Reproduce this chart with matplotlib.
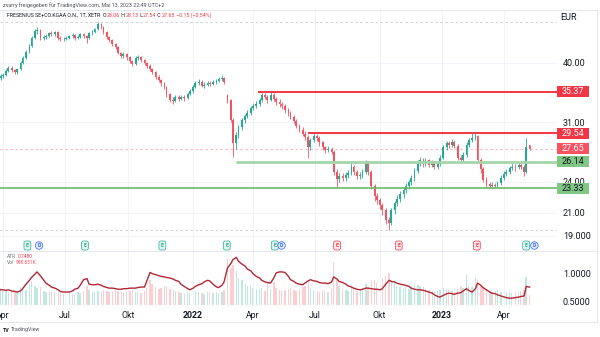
import numpy as np
import pandas as pd
import matplotlib
matplotlib.use("Agg")
import matplotlib.pyplot as plt
import matplotlib.dates as mdates
from matplotlib.patches import Rectangle
from matplotlib.ticker import NullLocator, NullFormatter

plt.rcParams["font.family"] = ["Roboto", "DejaVu Sans"]

W, H = 600, 337

# Fresenius SE, Xetra, 3-day bars from 2021-03-29
start = "2021-03-29"
first_open = 37.5
closes = [
    37.8, 38.0, 38.6, 39.1, 38.8, 38.5, 38.9, 40.0, 40.9, 41.9,
    43.0, 44.6, 45.9, 46.1, 44.6, 44.7, 45.0, 45.5, 45.3, 45.7,
    44.6, 44.4, 44.4, 44.6, 44.9, 45.1, 44.6, 44.7, 45.3, 45.0,
    44.6, 45.5, 45.7, 46.3, 47.3, 46.7, 45.7, 44.7, 44.1, 43.4,
    42.9, 41.8, 41.2, 41.6, 41.0, 40.3, 39.8, 40.9, 41.0, 40.5,
    40.0, 39.5, 39.0, 38.5, 37.6, 37.2, 36.7, 36.1, 35.0, 34.1,
    34.0, 34.6, 34.3, 34.6, 34.4, 35.0, 35.4, 36.1, 36.7, 36.9,
    36.3, 36.4, 36.7, 36.6, 36.9, 37.0, 37.3, 37.5, 36.9, 34.1,
    31.3, 28.3, 29.3, 30.3, 31.3, 31.8, 32.2, 33.0, 33.2, 33.5,
    34.1, 34.8, 34.6, 34.1, 34.8, 34.3, 33.8, 33.5, 33.2, 32.7,
    32.2, 31.7, 31.2, 30.5, 30.0, 29.5, 29.1, 27.8, 28.7, 29.2,
    29.0, 28.4, 27.8, 27.5, 27.65, 27.3, 25.0, 24.3, 24.6, 24.4,
    24.7, 24.9, 25.6, 25.0, 24.6, 24.7, 25.0, 26.0, 25.0, 23.5,
    22.5, 22.2, 21.7, 21.2, 20.3, 20.1, 21.2, 21.9, 22.3, 22.7,
    23.1, 23.5, 23.9, 24.4, 25.1, 26.0, 26.3, 26.0, 26.3, 25.8,
    26.0, 25.6, 25.9, 26.6, 27.8, 28.3, 28.1, 28.5, 28.0, 26.6,
    26.3, 26.9, 28.1, 28.7, 29.0, 29.2, 26.3, 25.3, 24.2, 23.7,
    23.5, 23.6, 23.5, 23.8, 24.4, 24.8, 25.0, 25.4, 25.6, 25.5,
    25.8, 25.6, 25.0, 27.80, 27.65,
]
highs = [
    38.1, 38.3, 38.9, 39.4, 39.4, 39.0, 39.2, 40.3, 41.2, 42.3,
    43.4, 45.0, 46.4, 46.8, 46.4, 45.2, 45.4, 45.8, 45.9, 46.0,
    45.9, 44.9, 44.8, 45.0, 45.2, 45.5, 45.3, 45.1, 45.6, 45.6,
    45.2, 45.8, 46.1, 46.6, 47.7, 47.5, 46.9, 45.9, 44.9, 44.3,
    43.6, 43.0, 42.0, 41.9, 41.8, 41.2, 40.5, 41.2, 41.4, 41.2,
    40.7, 40.2, 39.9, 39.2, 38.7, 37.9, 37.4, 36.9, 36.2, 35.2,
    34.5, 34.9, 34.9, 34.9, 34.9, 35.3, 35.7, 36.4, 37.0, 37.3,
    37.1, 36.8, 37.0, 37.0, 37.2, 37.3, 37.6, 37.9, 37.7, 35.0,
    34.3, 31.5, 29.7, 30.6, 31.6, 32.1, 32.6, 33.3, 33.6, 33.9,
    34.4, 35.1, 35.2, 34.9, 35.37, 35.1, 34.6, 34.2, 33.8, 33.5,
    33.0, 32.5, 32.0, 31.4, 30.8, 30.3, 29.8, 29.3, 29.0, 29.54,
    29.5, 29.2, 28.6, 28.0, 28.0, 27.9, 27.5, 25.3, 24.9, 24.9,
    25.0, 25.2, 26.2, 25.8, 25.2, 25.0, 25.3, 26.3, 26.1, 25.2,
    23.7, 22.8, 22.4, 21.9, 21.4, 20.6, 21.4, 22.1, 22.6, 23.0,
    23.4, 23.8, 24.2, 24.7, 25.4, 26.3, 26.7, 26.6, 26.6, 26.5,
    26.3, 26.2, 26.2, 26.9, 28.1, 28.6, 28.6, 28.8, 28.7, 28.2,
    26.9, 27.2, 28.4, 29.0, 29.54, 29.54, 29.3, 26.6, 25.5, 24.5,
    23.9, 23.9, 23.8, 24.1, 24.7, 25.1, 25.3, 25.7, 26.0, 25.9,
    26.1, 26.0, 25.8, 29.0, 28.13,
]
lows = [
    37.2, 37.5, 37.8, 38.4, 38.5, 38.1, 38.2, 38.8, 39.8, 40.7,
    41.7, 42.8, 44.3, 45.4, 44.2, 44.1, 44.4, 44.8, 45.0, 45.0,
    44.2, 43.9, 44.0, 44.1, 44.3, 44.6, 44.2, 44.3, 44.5, 44.6,
    43.6, 44.4, 45.2, 45.5, 46.2, 46.3, 45.4, 44.4, 43.8, 43.1,
    42.5, 41.5, 40.8, 40.9, 40.6, 40.0, 39.4, 39.6, 40.5, 40.2,
    39.7, 39.2, 38.6, 38.1, 37.3, 36.8, 36.3, 35.7, 34.6, 33.8,
    33.5, 33.8, 34.0, 34.1, 34.0, 34.2, 34.8, 35.2, 35.9, 36.4,
    36.0, 35.9, 36.2, 36.2, 36.4, 36.6, 36.8, 37.0, 36.5, 33.6,
    31.0, 26.7, 27.6, 28.9, 30.0, 30.9, 31.5, 31.9, 32.6, 32.9,
    33.2, 33.8, 34.2, 33.7, 33.9, 33.9, 33.4, 33.1, 32.8, 32.3,
    31.8, 31.4, 30.9, 30.2, 29.7, 29.2, 28.7, 26.6, 27.5, 28.4,
    28.6, 28.0, 27.5, 27.1, 27.2, 27.0, 24.7, 23.3, 24.0, 24.1,
    24.1, 24.4, 24.7, 24.7, 24.3, 24.3, 24.4, 24.8, 24.7, 23.2,
    22.1, 21.8, 21.3, 20.8, 20.0, 19.47, 19.9, 20.9, 21.6, 22.0,
    22.4, 22.8, 23.2, 23.6, 24.1, 24.9, 25.7, 25.6, 25.7, 25.5,
    25.5, 25.3, 25.3, 25.7, 26.4, 27.5, 27.7, 27.8, 27.7, 26.3,
    26.0, 26.1, 26.7, 27.9, 28.4, 28.7, 26.0, 24.9, 23.9, 23.4,
    23.33, 23.35, 23.33, 23.4, 23.6, 24.2, 24.6, 24.8, 25.2, 25.1,
    25.3, 25.3, 24.6, 24.9, 27.54,
]
# gap openings (earnings day Feb 2022, last session)
open_overrides = {79: 34.8, 184: 28.06}

# daily volume in millions of shares, averaged per bar
volumes = [
    1.8, 1.5, 1.6, 1.4, 1.3, 1.5, 1.4, 1.9, 1.7, 1.6,
    2.2, 2.5, 2.0, 1.8, 1.9, 1.5, 1.4, 1.3, 1.4, 1.2,
    1.3, 1.2, 1.1, 1.4, 1.2, 1.1, 1.0, 1.3, 1.2, 1.5,
    2.0, 1.6, 1.4, 1.3, 1.5, 1.4, 1.6, 1.5, 1.3, 1.4,
    1.6, 1.5, 1.3, 1.2, 1.4, 1.5, 1.6, 1.4, 1.3, 1.2,
    1.5, 1.8, 2.6, 2.2, 1.9, 1.7, 1.8, 2.0, 1.9, 1.7,
    1.6, 1.5, 1.3, 1.2, 1.1, 1.3, 1.2, 1.4, 1.5, 1.3,
    1.2, 1.1, 1.3, 1.4, 1.2, 1.3, 1.2, 1.4, 1.6, 4.8,
    3.8, 4.2, 3.5, 2.8, 2.6, 2.2, 2.0, 2.1, 1.8, 1.7,
    1.6, 1.8, 1.5, 2.3, 1.7, 2.4, 1.8, 1.6, 1.5, 1.6,
    1.7, 1.8, 1.6, 1.5, 1.7, 1.9, 2.0, 2.4, 1.8, 1.6,
    1.5, 1.4, 1.6, 1.5, 1.4, 1.8, 4.5, 2.6, 2.0, 1.7,
    1.6, 1.5, 1.9, 1.7, 1.5, 1.6, 1.7, 2.2, 1.9, 2.5,
    2.6, 2.3, 2.4, 2.8, 3.0, 3.3, 2.6, 2.3, 2.0, 1.9,
    1.8, 1.9, 1.7, 2.0, 2.2, 2.1, 2.0, 1.9, 1.7, 1.6,
    1.5, 1.4, 1.5, 1.6, 1.8, 1.7, 1.6, 1.5, 1.4, 1.7,
    2.0, 1.8, 3.2, 2.0, 1.9, 2.8, 2.6, 2.0, 1.8, 1.6,
    1.5, 1.4, 1.5, 1.6, 1.4, 1.3, 1.4, 1.3, 1.2, 1.3,
    1.4, 1.5, 1.6, 2.9, 0.998651,
]
atr = [
    0.70, 0.70, 0.69, 0.70, 0.68, 0.67, 0.66, 0.68, 0.72, 0.80,
    0.87, 0.92, 0.98, 1.02, 0.95, 0.87, 0.82, 0.78, 0.75, 0.73,
    0.70, 0.67, 0.66, 0.66, 0.66, 0.68, 0.71, 0.73, 0.78, 0.88,
    0.90, 0.80, 0.79, 0.79, 0.80, 0.78, 0.76, 0.74, 0.73, 0.73,
    0.72, 0.71, 0.71, 0.72, 0.72, 0.73, 0.73, 0.73, 0.74, 0.75,
    0.75, 0.85, 1.01, 0.99, 0.97, 0.95, 0.94, 0.93, 0.92, 0.91,
    0.89, 0.87, 0.85, 0.80, 0.76, 0.72, 0.70, 0.73, 0.76, 0.79,
    0.81, 0.84, 0.87, 0.86, 0.80, 0.75, 0.74, 0.78, 0.84, 1.09,
    1.17, 1.24, 1.28, 1.21, 1.16, 1.12, 1.07, 1.04, 0.99, 0.94,
    0.91, 0.87, 0.84, 0.83, 0.82, 0.92, 1.00, 1.02, 1.02, 1.01,
    0.94, 0.88, 0.85, 0.82, 0.80, 0.79, 0.82, 0.86, 0.88, 0.86,
    0.85, 0.83, 0.82, 0.82, 0.81, 0.84, 0.93, 0.89, 0.85, 0.83,
    0.80, 0.77, 0.75, 0.73, 0.71, 0.70, 0.71, 0.73, 0.73, 0.72,
    0.71, 0.71, 0.70, 0.72, 0.80, 0.87, 0.85, 0.84, 0.82, 0.80,
    0.79, 0.78, 0.76, 0.73, 0.71, 0.70, 0.70, 0.69, 0.68, 0.66,
    0.64, 0.61, 0.58, 0.57, 0.60, 0.63, 0.64, 0.63, 0.62, 0.64,
    0.65, 0.68, 0.72, 0.69, 0.66, 0.72, 0.82, 0.78, 0.74, 0.70,
    0.66, 0.64, 0.63, 0.61, 0.59, 0.57, 0.56, 0.55, 0.55, 0.56,
    0.57, 0.58, 0.59, 0.76, 0.748,
]

red_levels = [35.37, 29.54]
red_level_from = ["2022-04-08", "2022-06-20"]
green_levels = [26.14, 23.33]
green_level_from = ["2022-03-07", "2021-03-28"]
green_level_colors = ["#a5d6a7", "#66bb6a"]
green_level_widths = [2.0, 1.2]

price_ticks = [40, 31, 24, 21, 19]
price_tick_labels = ["40.00", "31.00", "24.00", "21.00", "19.000"]
atr_ticks = [0.5, 1.0]
atr_tick_labels = ["0.5000", "1.0000"]
time_ticks = ["2021-04-01", "2021-07-01", "2021-10-01", "2022-01-03", "2022-04-01",
              "2022-07-01", "2022-10-03", "2023-01-02", "2023-04-03"]
time_tick_labels = ["Apr", "Jul", "Okt", "2022", "Apr", "Jul", "Okt", "2023", "Apr"]

earnings_beat = ["2021-05-07", "2021-07-30", "2021-11-20", "2022-02-22", "2022-05-03", "2023-05-05"]
earnings_miss = ["2022-08-02", "2022-10-31", "2023-02-22"]
dividends = ["2021-05-24", "2022-05-13", "2023-05-17"]

UP = "#22ab94"
DOWN = "#f7525f"
RED = "#f23645"
GRID = "#f0f3fa"
BORDER = "#e0e3eb"
TEXT = "#131722"

c = np.array(closes)
hi = np.array(highs)
lo = np.array(lows)
o = np.r_[first_open, c[:-1]]
for i, v in open_overrides.items():
    o[i] = v
dates = pd.bdate_range(start, periods=len(c), freq="3B")
x = mdates.date2num(dates)
col = np.where(c >= o, UP, DOWN)


def px_rect(l, t, r, b):
    return [l / W, 1 - b / H, (r - l) / W, (b - t) / H]


fig = plt.figure(figsize=(W / 100, H / 100), dpi=100)
fig.patch.set_facecolor("white")
ax = fig.add_axes(px_rect(0, 10, 557, 251))
axl = fig.add_axes(px_rect(0, 251, 557, 305), sharex=ax)
axv = axl.twinx()
ov = fig.add_axes([0, 0, 1, 1], zorder=10)
ov.set_xlim(0, W)
ov.set_ylim(H, 0)
ov.axis("off")

# price pane
ax.set_yscale("log")
ax.set_ylim(17.79, 50.26)
ax.set_xlim(mdates.date2num(pd.Timestamp("2021-03-28")), mdates.date2num(pd.Timestamp("2023-06-19")))
ax.vlines(x, lo, hi, colors=col, lw=0.6, zorder=3)
body_lo = np.minimum(o, c)
body_hi = np.maximum(o, c)
ax.bar(x, body_hi - body_lo, bottom=body_lo, width=2.6, color=col, linewidth=0, zorder=3)

xr = ax.get_xlim()[1]
for lvl, d in zip(red_levels, red_level_from):
    ax.hlines(lvl, mdates.date2num(pd.Timestamp(d)), xr, color=RED, lw=1.4, zorder=4)
for lvl, d, cl, lw in zip(green_levels, green_level_from, green_level_colors, green_level_widths):
    ax.hlines(lvl, mdates.date2num(pd.Timestamp(d)), xr, color=cl, lw=lw, zorder=4)
ax.axhline(c[-1], color=RED, alpha=0.4, lw=0.6, ls=(0, (3, 3)), zorder=2)
ax.axhline(hi.max(), color="#b2b5be", alpha=0.7, lw=0.6, ls=(0, (3, 3)), zorder=2)
ax.axhline(lo.min(), color="#b2b5be", alpha=0.7, lw=0.6, ls=(0, (3, 3)), zorder=2)

ax.yaxis.tick_right()
ax.set_yticks(price_ticks)
ax.set_yticklabels(price_tick_labels)
ax.yaxis.set_minor_locator(NullLocator())
ax.yaxis.set_minor_formatter(NullFormatter())
ax.tick_params(axis="y", length=0, pad=4.3, labelsize=6.5, labelcolor=TEXT)
ax.tick_params(axis="x", length=0, labelbottom=False)
ax.set_xticks(mdates.date2num(pd.to_datetime(time_ticks)))
ax.grid(True, color=GRID, lw=0.7)
for s in ax.spines.values():
    s.set_visible(False)

# ATR + volume pane
axv.bar(x, volumes, width=2.0, color=col, alpha=0.28, linewidth=0)
axv.set_ylim(0, 5.6)
axv.set_yticks([])
axl.plot(x, atr, color="#b22833", lw=1.0, zorder=3)
axl.set_ylim(0.4286, 1.393)
axl.set_zorder(axv.get_zorder() + 1)
axl.patch.set_visible(False)
axl.yaxis.tick_right()
axl.set_yticks(atr_ticks)
axl.set_yticklabels(atr_tick_labels)
axl.tick_params(axis="y", length=0, pad=4.3, labelsize=6.5, labelcolor=TEXT)
axl.set_xticks(mdates.date2num(pd.to_datetime(time_ticks)))
axl.set_xticklabels(time_tick_labels)
axl.tick_params(axis="x", length=0, pad=4.5, labelsize=6.3, labelcolor=TEXT)
for lab in axl.get_xticklabels():
    if lab.get_text().isdigit():
        lab.set_fontweight("bold")
axl.grid(True, axis="x", color=GRID, lw=0.7)
for a in (axl, axv):
    for s in a.spines.values():
        s.set_visible(False)

# frame around the panes and price scale
ov.plot([0, 597], [10, 10], color=BORDER, lw=0.6)
ov.plot([0, 597], [251, 251], color=BORDER, lw=0.6)
ov.plot([0, 597], [322, 322], color=BORDER, lw=0.6)
ov.plot([597, 597], [10, 322], color=BORDER, lw=0.6)


def price_box(price, face, ink):
    py = H - ax.transData.transform((x[-1], price))[1]
    ov.add_patch(Rectangle((557, py - 5.5), 32, 11, facecolor=face, edgecolor="none", zorder=5))
    ov.text(573, py, f"{price:.2f}", ha="center", va="center", fontsize=6.5, color=ink, zorder=6)


for lvl in red_levels:
    price_box(lvl, RED, "white")
price_box(c[-1], DOWN, "white")
for lvl in green_levels:
    price_box(lvl, "#81c784", TEXT)


def event_icon(day, letter, edge, face, shape):
    px = ax.transData.transform((mdates.date2num(pd.Timestamp(day)), 30))[0]
    ov.text(px, 245.5, letter, ha="center", va="center", fontsize=3.6, color=edge,
            fontweight="bold", zorder=6,
            bbox=dict(boxstyle=shape, fc=face, ec=edge, lw=0.5))


for d in earnings_beat:
    event_icon(d, "E", UP, "#e3f4f1", "round,pad=0.4")
for d in earnings_miss:
    event_icon(d, "E", RED, "#fde6e8", "round,pad=0.4")
for d in dividends:
    event_icon(d, "D", "#2962ff", "#e3eaff", "circle,pad=0.25")


def chain(first, pieces, gap=1.2):
    prev = first
    for txt, color in pieces:
        prev = ov.annotate(txt, xy=(1, 0.5), xycoords=prev, xytext=(gap, 0),
                           textcoords="offset points", va="center", ha="left",
                           fontsize=first.get_fontsize(), color=color)
        gap = 0.15


ov.text(3, 5, "zvarry freigegeben für TradingView.com, Mai 13, 2023 22:49 UTC+2",
        fontsize=3.9, color="#50535e", va="center")

chg = c[-1] - c[-2]
pct = chg / c[-2] * 100
head = ov.text(7, 15.5, "FRESENIUS SE+CO.KGAA O.N., 1T, XETR", fontsize=3.8, color=TEXT, va="center")
chain(head, [("O", TEXT), (f"{o[-1]:.2f}", RED), (" H", TEXT), (f"{hi[-1]:.2f}", RED),
             (" L", TEXT), (f"{lo[-1]:.2f}", RED), (" C", TEXT), (f"{c[-1]:.2f}", RED),
             (f" {chg:+.2f} ({pct:+.2f}%)".replace("-", "\u2212"), RED)], gap=2.0)

ov.text(560, 17.5, "EUR", fontsize=6.5, color=TEXT, va="center")

atr_head = ov.text(7, 256.5, "ATR", fontsize=3.5, color="#787b86", va="center")
chain(atr_head, [(f"{atr[-1]:.4f}", RED)], gap=1.5)
vol_head = ov.text(7, 262.5, "Vol", fontsize=3.5, color="#787b86", va="center")
chain(vol_head, [(f"{volumes[-1] * 1000:.3f}K", DOWN)], gap=1.5)

logo = ov.text(3, 330, "TV", fontsize=3.8, color=TEXT, fontweight="bold", va="center")
chain(logo, [("TradingView", "#50535e")], gap=1.0)

fig.savefig("out.png", dpi=100)
